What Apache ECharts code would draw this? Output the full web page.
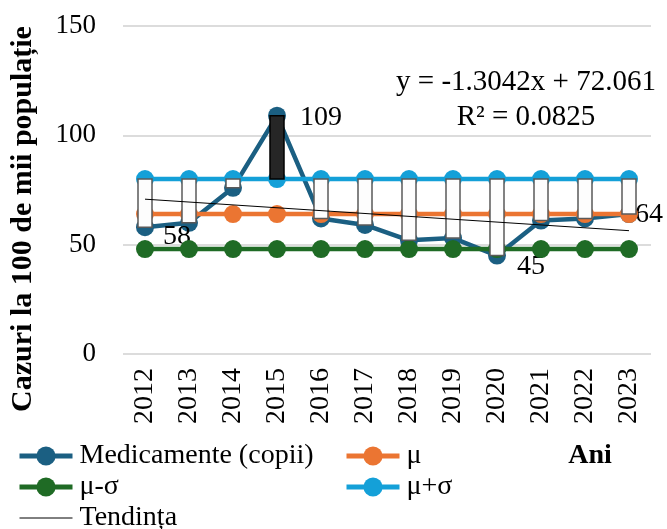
<!DOCTYPE html>
<html><head><meta charset="utf-8">
<script src="https://cdn.jsdelivr.net/npm/echarts@6/dist/echarts.min.js"></script>
<style>html,body{margin:0;padding:0;background:#fff}#c{width:667px;height:529px}</style>
</head><body><div id="c"></div>
<script>
const years = ['2012','2013','2014','2015','2016','2017','2018','2019','2020','2021','2022','2023'];
const medicamente = [58, 60, 76, 109, 62, 59, 52, 53, 45, 61, 62, 64];
const mu = [64, 64, 64, 64, 64, 64, 64, 64, 64, 64, 64, 64];
const muMinusSigma = [48, 48, 48, 48, 48, 48, 48, 48, 48, 48, 48, 48];
const muPlusSigma = [80, 80, 80, 80, 80, 80, 80, 80, 80, 80, 80, 80];
const trendEnds = [70.8, 56.4];
const labeledYears = ['2012', '2015', '2020', '2023'];
const yMin = 0, yMax = 150, yStep = 50;
const yTitle = 'Cazuri la 100 de mii populație';
const xTitle = 'Ani';
const equationText = 'y = -1.3042x + 72.061';
const r2Text = 'R² = 0.0825';
const seriesNames = ['Medicamente (copii)', 'μ', 'μ-σ', 'μ+σ', 'Tendința'];

const FF = "'Liberation Serif','Times New Roman',serif";
const C_MED = '#1b5f82', C_MU = '#eb7532', C_LOW = '#1f6b25', C_HIGH = '#14a0d8';
const labelOffsets = {'2012': [9, 9], '2015': [14, 2], '2020': [11, 11], '2023': [-3, 1]};

const chart = echarts.init(document.getElementById('c'));
const lineBase = (name, data, color, z) => ({
  name, type: 'line', data, z,
  symbol: 'circle', symbolSize: 18,
  lineStyle: {color, width: 4.5},
  itemStyle: {color},
  emphasis: {disabled: true},
  animation: false
});

const medData = medicamente.map((v, i) => labeledYears.includes(years[i]) ? {
  value: v,
  label: {show: true, position: 'right', distance: 0, offset: labelOffsets[years[i]],
    formatter: '{c}', fontFamily: FF, fontSize: 28, color: '#000'}
} : v);

const thickItem = (name) => ({name, lineStyle: {width: 5}});
const legendCommon = {
  orient: 'vertical', top: 442, height: 100, padding: 0,
  itemGap: 3, itemWidth: 53, itemHeight: 24,
  textStyle: {fontFamily: FF, fontSize: 28, color: '#000', padding: [0, 0, 0, 2]}
};

const option = {
  backgroundColor: '#fff',
  animation: false,
  grid: {left: 123, right: 16, top: 26, bottom: 175},
  xAxis: {
    type: 'category', data: years, boundaryGap: true,
    axisLine: {show: false}, axisTick: {show: false},
    axisLabel: {rotate: 90, margin: 14, fontFamily: FF, fontSize: 28, color: '#000'}
  },
  yAxis: {
    type: 'value', min: yMin, max: yMax, interval: yStep,
    axisLine: {show: false}, axisTick: {show: false},
    splitLine: {lineStyle: {color: '#dcdcdc', width: 2}},
    axisLabel: {margin: 27, fontFamily: FF, fontSize: 27, color: '#000'}
  },
  legend: [
    Object.assign({}, legendCommon, {left: 17,
      data: [thickItem(seriesNames[0]), thickItem(seriesNames[2]),
        {name: seriesNames[4], lineStyle: {width: 1}, itemStyle: {color: 'rgba(0,0,0,0)', borderWidth: 0, opacity: 0}}]}),
    Object.assign({}, legendCommon, {left: 344,
      data: [thickItem(seriesNames[1]), thickItem(seriesNames[3])]})
  ],
  graphic: [
    {type: 'text', x: 23, y: 219, rotation: Math.PI / 2,
      style: {text: yTitle, fontFamily: FF, fontSize: 30, fontWeight: 'bold', fill: '#000', align: 'center', verticalAlign: 'middle'}},
    {type: 'text', x: 590, y: 456,
      style: {text: xTitle, fontFamily: FF, fontSize: 28, fontWeight: 'bold', fill: '#000', align: 'center', verticalAlign: 'middle'}},
    {type: 'text', x: 526, y: 82,
      style: {text: equationText, fontFamily: FF, fontSize: 29, fill: '#000', align: 'center', verticalAlign: 'middle'}},
    {type: 'text', x: 526, y: 117,
      style: {text: r2Text, fontFamily: FF, fontSize: 29, fill: '#000', align: 'center', verticalAlign: 'middle'}}
  ],
  series: [
    lineBase(seriesNames[0], medData, C_MED, 2),
    lineBase(seriesNames[1], mu, C_MU, 3),
    lineBase(seriesNames[2], muMinusSigma, C_LOW, 4),
    lineBase(seriesNames[3], muPlusSigma, C_HIGH, 5),
    {
      type: 'custom', name: 'updown', z: 6, silent: true,
      data: years.map((y, i) => [i, medicamente[i], muPlusSigma[i]]),
      encode: {x: 0, y: [1, 2]},
      renderItem: function (params, api) {
        const i = api.value(0), a = api.value(1), b = api.value(2);
        const p1 = api.coord([i, a]), p2 = api.coord([i, b]);
        const w = 14, up = a > b;
        return {type: 'rect',
          shape: {x: p1[0] - w / 2, y: Math.min(p1[1], p2[1]), width: w, height: Math.abs(p1[1] - p2[1])},
          style: {fill: up ? '#262626' : '#fdfdfd', stroke: up ? '#000' : '#595959', lineWidth: 1.5}};
      }
    },
    {
      name: seriesNames[4], type: 'line', z: 7, symbol: 'none',
      data: [[years[0], trendEnds[0]], [years[years.length - 1], trendEnds[1]]],
      lineStyle: {color: '#000', width: 1},
      itemStyle: {color: '#000'}
    }
  ]
};
chart.setOption(option);
</script>
</body></html>
